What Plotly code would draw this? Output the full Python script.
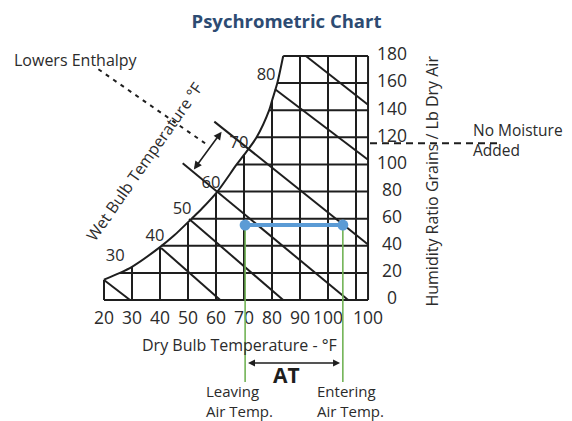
import plotly.graph_objects as go

# Datos (temperatura de bulbo seco en °F, humedad en granos/lb)
sat_temp = [20, 25.7, 30, 40, 45, 51.3, 55, 60.5, 67.4, 70, 74.5, 79, 80, 81.9, 84]
sat_grains = [15, 20, 24.5, 39, 47.5, 60, 67.5, 80, 100, 107, 120, 140, 147, 160, 180]

x_edge = 114.3  # borde derecho del cuadro
grid_temps = [20, 30, 40, 50, 60, 70, 80, 90, 100, 110]
grid_tops = [15, 24.5, 39, 57, 79, 107, 147, 180, 180, 180]
grid_grains = [0, 20, 40, 60, 80, 100, 120, 140, 160, 180]
grid_starts = [20, 25.7, 40.5, 51.3, 60.5, 67.4, 74.5, 79, 81.9, 84]

# lineas de bulbo humedo: inicio (T, gr) -> fin (T, gr)
wb_x0 = [20, 40.4, 50.4, 48.1, 59.4, 81.1, 92.1]
wb_y0 = [14.8, 38.4, 59.8, 100.9, 131.6, 155.5, 180]
wb_x1 = [29.3, 61.5, 84, 107.2, x_edge, x_edge, x_edge]
wb_y1 = [0, 0, 0, 0, 41, 103.5, 144]

wb_labels = ['30', '40', '50', '60', '70', '80']
wb_label_x = [24, 38.2, 47.9, 58.2, 68.2, 77.9]
wb_label_y = [32, 46.9, 66.4, 86, 115.5, 165.6]

x_tick_vals = [20, 30, 40, 50, 60, 70, 80, 90, 100, x_edge]
x_tick_text = ['20', '30', '40', '50', '60', '70', '80', '90', '100', '100']
y_tick_vals = [0, 20, 40, 60, 80, 100, 120, 140, 160, 180]

leaving_temp = 70.4
entering_temp = 105.3
process_grains = 55.3

INK = '#1e1e1e'
TXT = '#2b2b2b'
FONT = 'Open Sans'

fig = go.Figure()

# cuadricula vertical (hasta la curva de saturacion)
vx, vy = [], []
for t, top in zip(grid_temps, grid_tops):
    vx += [t, t, None]
    vy += [0, top, None]
vx += [x_edge, x_edge, None]
vy += [0, 180, None]
# cuadricula horizontal (desde la curva)
for g, start in zip(grid_grains, grid_starts):
    vx += [start, x_edge, None]
    vy += [g, g, None]
# bulbo humedo
for a, b, c, d in zip(wb_x0, wb_y0, wb_x1, wb_y1):
    vx += [a, c, None]
    vy += [b, d, None]
fig.add_trace(go.Scatter(x=vx, y=vy, mode='lines', line=dict(color=INK, width=2),
                         hoverinfo='skip', showlegend=False))

# curva de saturacion
fig.add_trace(go.Scatter(x=sat_temp, y=sat_grains, mode='lines',
                         line=dict(color=INK, width=2, shape='spline', smoothing=0.8),
                         hoverinfo='skip', showlegend=False))

# etiquetas de bulbo humedo
fig.add_trace(go.Scatter(x=wb_label_x, y=wb_label_y, mode='text', text=wb_labels,
                         textfont=dict(family=FONT, size=16.5, color=TXT), showlegend=False))

# etiquetas de ejes
fig.add_trace(go.Scatter(x=x_tick_vals, y=[-14.8] * len(x_tick_vals), mode='text',
                         text=x_tick_text, textfont=dict(family=FONT, size=17.5, color=TXT),
                         showlegend=False))
fig.add_trace(go.Scatter(x=[122.9] * len(y_tick_vals), y=y_tick_vals, mode='text',
                         text=[str(v) for v in y_tick_vals],
                         textfont=dict(family=FONT, size=17.5, color=TXT), showlegend=False))

# lineas punteadas
fig.add_trace(go.Scatter(x=[18.0, 56.1], y=[170.2, 115.6], mode='lines',
                         line=dict(color=INK, width=2, dash='4px,5px'),
                         hoverinfo='skip', showlegend=False))
fig.add_trace(go.Scatter(x=[115.0, 162.1], y=[115.6, 115.6], mode='lines',
                         line=dict(color=INK, width=2, dash='7px,5px'),
                         hoverinfo='skip', showlegend=False))

# temperaturas de salida / entrada
fig.add_trace(go.Scatter(x=[leaving_temp, leaving_temp, None, entering_temp, entering_temp],
                         y=[process_grains, -60.5, None, process_grains, -60.5], mode='lines',
                         line=dict(color='#72b356', width=1.6), hoverinfo='skip', showlegend=False))
fig.add_trace(go.Scatter(x=[leaving_temp, entering_temp], y=[process_grains, process_grains],
                         mode='lines+markers', line=dict(color='#5b9bd5', width=4),
                         marker=dict(color='#5b9bd5', size=11), hoverinfo='skip', showlegend=False))

FS = 16
ann = []
# flecha de entalpia
ann.append(dict(x=62.0, y=124.2, ax=51.7, ay=95.2, axref='x', ayref='y',
                showarrow=True, arrowhead=2, arrowside='end+start', arrowsize=1, arrowwidth=1.6,
                arrowcolor=INK, text=''))
# flecha AT
ann.append(dict(x=104.3, y=-46.5, ax=70.9, ay=-46.5, axref='x', ayref='y',
                showarrow=True, arrowhead=2, arrowside='end+start', arrowsize=1, arrowwidth=1.4,
                arrowcolor=INK, text=''))
ann.append(dict(x=85.3, y=-55.3, text='<b>AT</b>', showarrow=False,
                font=dict(family=FONT, size=21, color=INK)))
ann.append(dict(x=55.7, y=-74.5, text='Leaving<br>Air Temp.', showarrow=False, xanchor='left',
                align='left', font=dict(family=FONT, size=15, color=TXT)))
ann.append(dict(x=95.4, y=-74.5, text='Entering<br>Air Temp.', showarrow=False, xanchor='left',
                align='left', font=dict(family=FONT, size=15, color=TXT)))
ann.append(dict(x=68.5, y=-33.2, text='Dry Bulb Temperature - °F', showarrow=False,
                font=dict(family=FONT, size=FS, color=TXT)))
ann.append(dict(x=136.8, y=87.4, text='Humidity Ratio Grains / Lb Dry Air', showarrow=False,
                textangle=-90, font=dict(family=FONT, size=FS, color=TXT)))
ann.append(dict(x=34.6, y=102.2, text='Wet Bulb Temperature °F', showarrow=False,
                textangle=-55, font=dict(family=FONT, size=FS, color=TXT)))
ann.append(dict(x=-12.9, y=177, text='Lowers Enthalpy', showarrow=False, xanchor='left',
                font=dict(family=FONT, size=FS, color=TXT)))
ann.append(dict(x=151.1, y=118, text='No Moisture<br>Added', showarrow=False, xanchor='left',
                align='left', font=dict(family=FONT, size=15.5, color=TXT)))
for a in ann:
    a['xref'] = 'x'
    a['yref'] = 'y'

# la pagina deja 8 px de margen, la figura ocupa el resto de la ventana
fig.update_layout(
    width=564, height=413,
    margin=dict(l=0, r=0, t=0, b=0),
    plot_bgcolor='white', paper_bgcolor='white',
    annotations=ann,
    title=dict(text='<b>Psychrometric Chart</b>', x=0.4938, xanchor='center',
               y=0.9685, yanchor='middle', yref='container',
               font=dict(family=FONT, size=18.5, color='#2d4b72')),
    xaxis=dict(range=[-14.286, 187.143], visible=False, fixedrange=True),
    yaxis=dict(range=[-89.26, 215.4], visible=False, fixedrange=True),
)

fig.write_html("out.html")
